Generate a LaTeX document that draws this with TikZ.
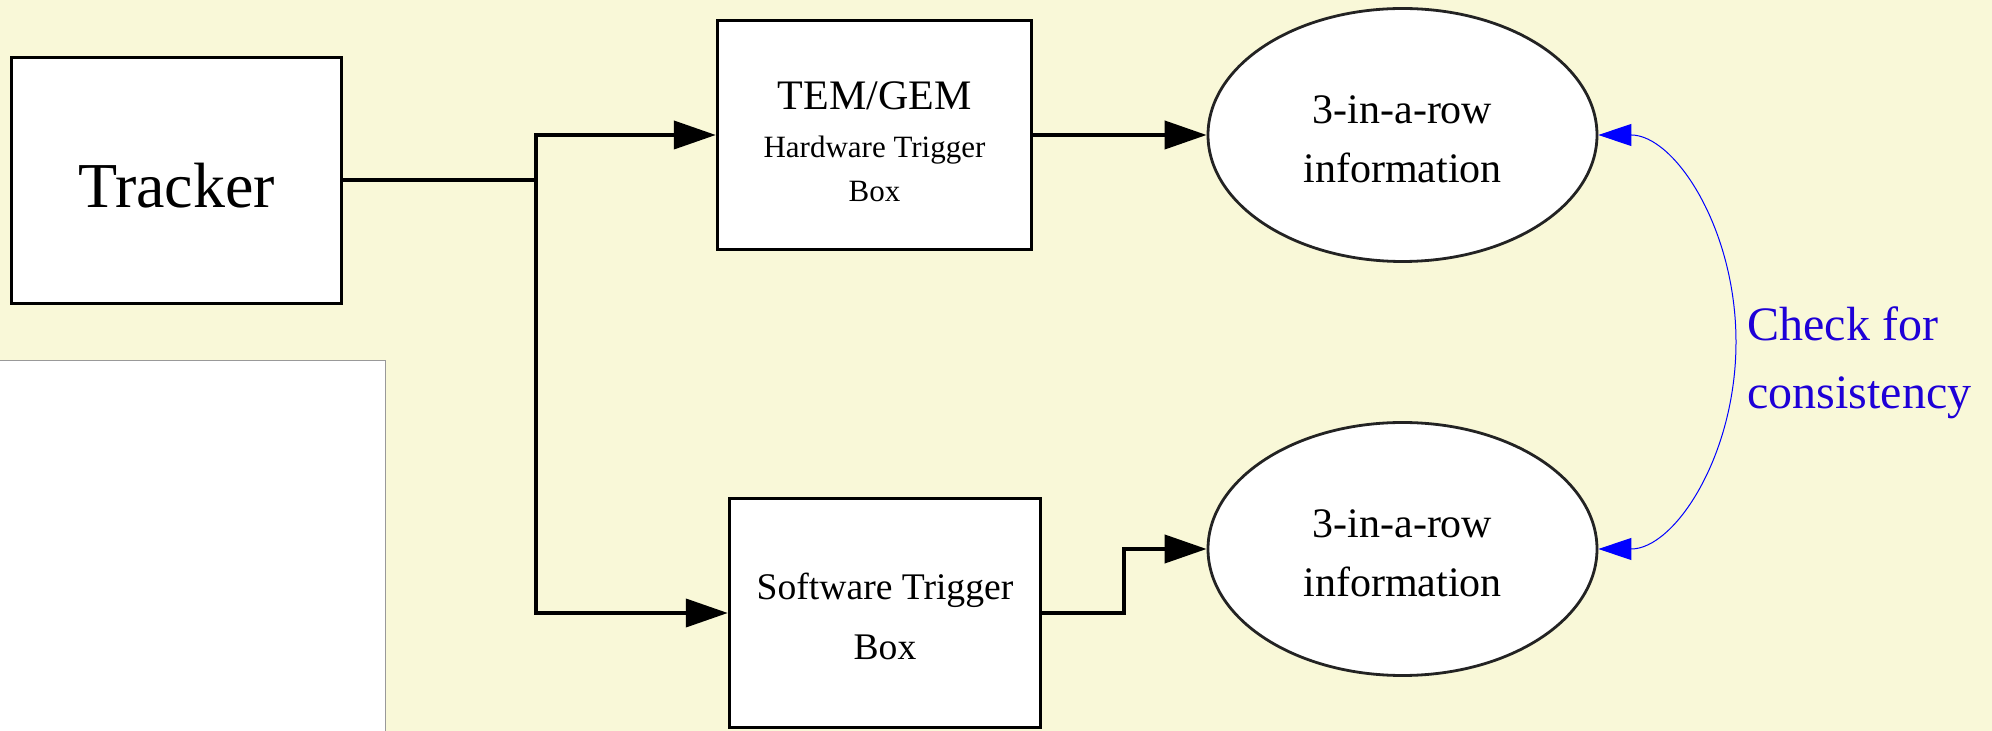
\documentclass[tikz,border=0pt]{standalone}
\usepackage{fontspec}
\setmainfont{Liberation Serif}
\usetikzlibrary{arrows.meta,shapes.geometric}
\definecolor{paleyellow}{RGB}{249,248,216}
\definecolor{checkblue}{RGB}{30,0,215}
\definecolor{edgegray}{RGB}{35,35,35}
\newcommand{\padtop}[1]{\rule{0pt}{#1}}

\tikzset{
  trigbox/.style={rectangle,draw=black,fill=white,line width=1.7pt,inner sep=0pt,align=center},
  infoell/.style={ellipse,draw=edgegray,fill=white,line width=1.4pt,inner sep=0pt,
    minimum width=194.5pt,minimum height=126.5pt,align=center,font=\fontsize{21}{29.5}\selectfont},
  flow/.style={line width=2pt,-{Triangle[length=21pt,width=14pt]}},
  checkline/.style={blue,line width=0.5pt,{Triangle[length=16.5pt,width=11pt]}-{Triangle[length=16.5pt,width=11pt]}}
}

\begin{document}
\begin{tikzpicture}[x=0.5pt,y=-0.5pt]
  \fill[paleyellow] (0,0) rectangle (1992,731);
  \useasboundingbox (0,0) rectangle (1992,731);
  % blank panel:
  \draw[gray!80,fill=white,line width=0.5pt] (-10,361) rectangle (385,745);

  % boxes:
  \node[trigbox,minimum width=165pt,minimum height=123pt,font=\fontsize{32}{38}\selectfont]
    (tracker) at (176.5,180.5) {\padtop{27pt}Tracker};
  \node[trigbox,minimum width=157pt,minimum height=114.5pt,font=\fontsize{15.5}{22}\selectfont]
    (tem) at (874.5,135) {{\fontsize{21}{24}\selectfont\padtop{20.5pt}TEM/GEM}\\[2pt]Hardware Trigger\\Box};
  \node[trigbox,minimum width=155.5pt,minimum height=114.5pt,font=\fontsize{18.8}{30}\selectfont]
    (sw) at (885,613) {\padtop{17pt}Software Trigger\\Box};
  \node[infoell] (ell1) at (1402.5,135) {\padtop{18.5pt}3-in-a-row\\information};
  \node[infoell] (ell2) at (1402.5,549) {\padtop{18.5pt}3-in-a-row\\information};

  % connectors:
  \coordinate (split) at (536,180.5);
  \draw[line width=2pt] (tracker.east) -- (split);
  \draw[flow] (split) |- (tem.west);
  \draw[flow] (split) |- (sw.west);
  \draw[flow] (tem.east) -- (ell1.west);
  \coordinate (jog) at (1124,613);
  \draw[flow] (sw.east) -- (jog) |- (ell2.west);

  % consistency check:
  \coordinate (bend) at (1736,342);
  \draw[checkline] (ell1.east) .. controls +(76,0) and +(0,-114) .. (bend)
    .. controls +(0,114) and +(76,0) .. (ell2.east);
  \node[anchor=west,inner sep=0pt,align=left,text=checkblue,font=\fontsize{24}{34}\selectfont]
    (check) at (1747,363) {Check for\\consistency};
\end{tikzpicture}
\end{document}
